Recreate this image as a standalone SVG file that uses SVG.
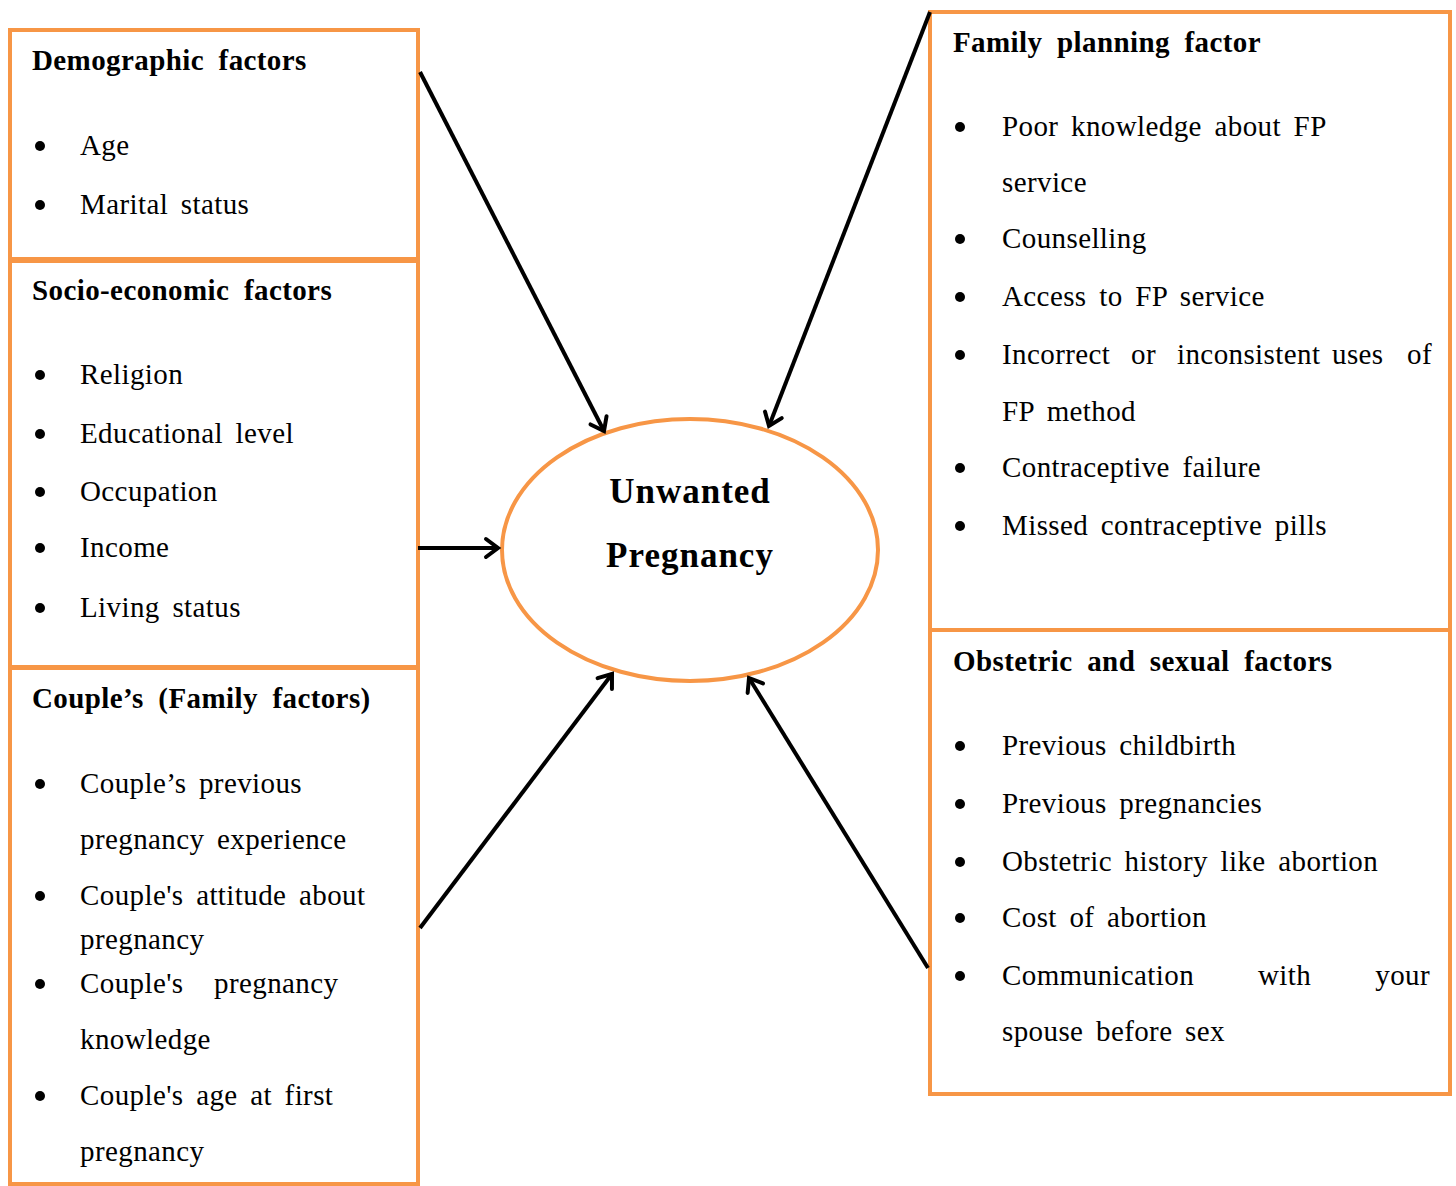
<svg xmlns="http://www.w3.org/2000/svg" width="1456" height="1186" viewBox="0 0 1456 1186">
<defs>
<marker id="arr" markerUnits="userSpaceOnUse" markerWidth="30" markerHeight="30" viewBox="-15 -15 30 30" refX="0" refY="0" orient="auto">
<path d="M-12,-9 L0,0 L-12,9" fill="none" stroke="#000" stroke-width="4" stroke-linecap="round" stroke-linejoin="miter"/>
</marker>
</defs>
<style>
.box{fill:#fff;stroke:#F79646;stroke-width:4}
.t{font-family:"Liberation Serif","Times New Roman",serif;font-size:29px;fill:#000;letter-spacing:0.4px;word-spacing:5px}
.h{font-family:"Liberation Serif","Times New Roman",serif;font-size:29px;font-weight:bold;fill:#000;letter-spacing:0.4px;word-spacing:7px}
.c{font-family:"Liberation Serif","Times New Roman",serif;font-size:35px;font-weight:bold;fill:#000;text-anchor:middle;letter-spacing:1px}
.b{fill:#000}
.ln{stroke:#000;stroke-width:4;fill:none;marker-end:url(#arr)}
</style>
<rect width="1456" height="1186" fill="#fff"/>
<g id="demographic">
<rect class="box" x="10" y="30" width="408" height="229"/>
<text class="h" x="32" y="70">Demographic factors</text>
<circle class="b" cx="40" cy="146" r="5"/><text class="t" x="80" y="155">Age</text>
<circle class="b" cx="40" cy="205" r="5"/><text class="t" x="80" y="214">Marital status</text>
</g>
<g id="socioeconomic">
<rect class="box" x="10" y="261" width="408" height="406"/>
<text class="h" x="32" y="300">Socio-economic factors</text>
<circle class="b" cx="40" cy="375" r="5"/><text class="t" x="80" y="384">Religion</text>
<circle class="b" cx="40" cy="434" r="5"/><text class="t" x="80" y="443">Educational level</text>
<circle class="b" cx="40" cy="492" r="5"/><text class="t" x="80" y="501">Occupation</text>
<circle class="b" cx="40" cy="548" r="5"/><text class="t" x="80" y="557">Income</text>
<circle class="b" cx="40" cy="608" r="5"/><text class="t" x="80" y="617">Living status</text>
</g>
<g id="couple">
<rect class="box" x="10" y="668" width="408" height="516"/>
<text class="h" x="32" y="708">Couple’s (Family factors)</text>
<circle class="b" cx="40" cy="784" r="5"/><text class="t" x="80" y="793">Couple’s previous</text>
<text class="t" x="80" y="849">pregnancy experience</text>
<circle class="b" cx="40" cy="896" r="5"/><text class="t" x="80" y="905">Couple's attitude about</text>
<text class="t" x="80" y="949">pregnancy</text>
<circle class="b" cx="40" cy="984" r="5"/><text class="t" x="80" y="993">Couple's</text><text class="t" x="214" y="993">pregnancy</text>
<text class="t" x="80" y="1049">knowledge</text>
<circle class="b" cx="40" cy="1096" r="5"/><text class="t" x="80" y="1105">Couple's age at first</text>
<text class="t" x="80" y="1161">pregnancy</text>
</g>
<g id="familyplanning">
<rect class="box" x="930" y="12" width="520" height="618"/>
<text class="h" x="953" y="52">Family planning factor</text>
<circle class="b" cx="960" cy="127" r="5"/><text class="t" x="1002" y="136">Poor knowledge about FP</text>
<text class="t" x="1002" y="192">service</text>
<circle class="b" cx="960" cy="239" r="5"/><text class="t" x="1002" y="248">Counselling</text>
<circle class="b" cx="960" cy="297" r="5"/><text class="t" x="1002" y="306">Access to FP service</text>
<circle class="b" cx="960" cy="355" r="5"/>
<text class="t" x="1002" y="364">Incorrect</text><text class="t" x="1131" y="364">or</text><text class="t" x="1177" y="364">inconsistent</text><text class="t" x="1332" y="364">uses</text><text class="t" x="1432" y="364" text-anchor="end">of</text>
<text class="t" x="1002" y="421">FP method</text>
<circle class="b" cx="960" cy="468" r="5"/><text class="t" x="1002" y="477">Contraceptive failure</text>
<circle class="b" cx="960" cy="526" r="5"/><text class="t" x="1002" y="535">Missed contraceptive pills</text>
</g>
<g id="obstetric">
<rect class="box" x="930" y="630" width="520" height="464"/>
<text class="h" x="953" y="671">Obstetric and sexual factors</text>
<circle class="b" cx="960" cy="746" r="5"/><text class="t" x="1002" y="755">Previous childbirth</text>
<circle class="b" cx="960" cy="804" r="5"/><text class="t" x="1002" y="813">Previous pregnancies</text>
<circle class="b" cx="960" cy="862" r="5"/><text class="t" x="1002" y="871">Obstetric history like abortion</text>
<circle class="b" cx="960" cy="918" r="5"/><text class="t" x="1002" y="927">Cost of abortion</text>
<circle class="b" cx="960" cy="976" r="5"/>
<text class="t" x="1002" y="985">Communication</text><text class="t" x="1258" y="985">with</text><text class="t" x="1430" y="985" text-anchor="end">your</text>
<text class="t" x="1002" y="1041">spouse before sex</text>
</g>
<g id="unwanted">
<ellipse cx="690" cy="550" rx="188" ry="131" fill="#fff" stroke="#F79646" stroke-width="4"/>
<text class="c" x="690" y="503">Unwanted</text>
<text class="c" x="690" y="567">Pregnancy</text>
</g>
<g id="connectors">
<line class="ln" x1="420" y1="72" x2="604" y2="431"/>
<line class="ln" x1="930" y1="12" x2="769" y2="426"/>
<line class="ln" x1="418" y1="548" x2="498" y2="548"/>
<line class="ln" x1="420" y1="928" x2="612" y2="674"/>
<line class="ln" x1="928" y1="968" x2="749" y2="678"/>
</g>
</svg>
